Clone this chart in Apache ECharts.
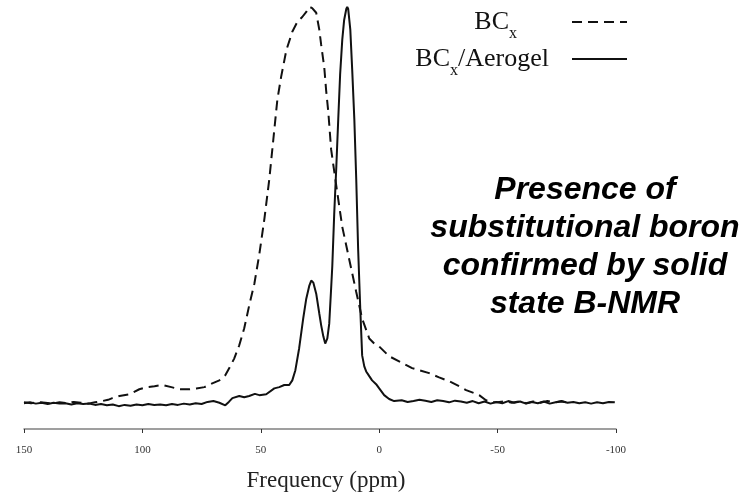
<!DOCTYPE html>
<html><head><meta charset="utf-8">
<script src="https://cdn.jsdelivr.net/npm/echarts@6/dist/echarts.min.js"></script>
<style>html,body{margin:0;padding:0;background:#fff}#c{width:753px;height:497px}</style>
</head><body><div id="c"></div>
<script>
// Axis tick labels (ppm)
const xTicks = [150, 100, 50, 0, -50, -100];
const seriesNames = ['BCx', 'BCx/Aerogel'];
const axisTitle = 'Frequency (ppm)';
const noteLines = ['Presence of', 'substitutional boron', 'confirmed by solid', 'state B-NMR'];

// BCx/Aerogel (solid) — chemical shift (ppm) and intensity (a.u.)
const solidPpm = [150,147.5,145,142.5,140,137.5,135,132.5,130,127.5,125,122.5,120,117.5,115,112.5,110,107.5,105,102.5,100,97.5,95,92.5,90,87.5,85,82.5,80,77.5,75,72.5,70,67.5,65,63.5,62,59.1,57,54.9,52.5,50.6,47.7,44.3,42.2,40.1,38,36.7,35.4,33.8,32.1,30.8,29.5,28.7,27.8,26.6,25.3,24.5,23.6,22.8,21.9,21.1,20.3,19.8,19,18.1,17.3,16.5,15.6,14.8,13.9,13.5,13.1,12.2,11.4,10.5,9.7,8.9,8,7.2,6.3,5.5,4.2,3,1.3,0,-2.1,-4.2,-6.3,-9.5,-12,-14.5,-17,-19.5,-22,-24.5,-27,-29.5,-32,-34.5,-37,-39.5,-42,-44.5,-47,-49.5,-52,-54.5,-57,-59.5,-62,-64.5,-67,-69.5,-72,-74.5,-77,-79.5,-82,-84.5,-87,-89.5,-92,-94.5,-97,-99.5];
const solidInt = [0.1,0.3,0.0,0.2,-0.1,0.2,0.0,0.1,-0.2,0.1,-0.1,0.0,-0.3,-0.1,-0.4,-0.2,-0.6,-0.3,-0.5,-0.2,-0.4,-0.1,-0.3,-0.2,-0.4,-0.1,-0.3,0.0,-0.2,0.1,-0.1,0.4,0.6,0.2,-0.4,0.4,1.3,1.8,1.5,1.8,2.3,2.0,2.2,3.6,3.9,4.4,4.4,5.5,7.9,13.1,20.1,24.8,27.9,29.1,28.6,26.0,21.3,18.5,15.9,14.2,15.4,18.9,27.2,32.6,44.8,56.1,67.2,77.8,86.0,90.7,93.3,93.8,93.3,88.4,78.9,67.2,53.1,36.6,22.5,11.4,8.8,7.6,6.5,5.5,4.6,3.6,2.0,1.1,0.6,0.8,0.4,0.6,0.9,0.7,0.4,0.8,0.6,0.3,0.7,0.5,0.2,0.6,0.1,0.5,0.0,0.4,0.1,0.6,0.2,0.5,0.0,0.4,0.1,0.5,0.0,0.3,0.6,0.2,0.4,0.1,0.3,0.0,0.3,0.1,0.4,0.3];

// BCx (dashed)
const dashPpm = [150,147,144,141,138,135,132,129,126,123,120,117,114.5,112.7,109.7,105.5,101.3,98.3,94.9,91.6,87.8,84.4,80.2,77.2,73.8,70.5,67.5,65,63.3,61.2,59.1,57,54.9,52.7,50.6,48.5,46.4,44.7,43,41.4,39.2,36.7,34.6,32.5,30.8,29.5,28.3,26.6,25.3,24.5,23.2,22.4,21.5,20.3,18.1,15.6,12.7,9.7,7.2,4.2,2.1,0,-4.2,-8.4,-13.9,-16.9,-21.1,-25.3,-29.5,-33.8,-36.7,-40.1,-42.2,-45.1,-47.3,-50,-53,-56,-59,-62,-65,-68,-71,-74,-77,-80];
const dashInt = [0.3,0.1,0.4,0.2,0.0,0.3,0.1,0.4,0.2,0.0,0.3,0.6,0.9,1.3,1.8,2.2,3.4,3.9,4.1,4.4,3.9,3.4,3.4,3.6,3.9,4.8,5.5,6.7,8.4,10.7,13.8,17.8,23.2,28.4,35.4,43.6,53.1,62.5,71.9,77.3,83.6,87.9,90.2,91.4,92.6,93.8,93.5,92.4,88.4,84.8,79.5,74.0,69.0,60.1,51.4,41.8,34.2,26.4,20.1,15.4,14.2,13.5,11.2,10.0,8.4,7.9,7.2,6.2,5.3,4.1,3.2,2.5,2.0,0.8,0.35,0.3,0.6,0.2,0.5,0.1,0.5,0.2,0.6,0.3,0.5,0.2];

const chart = echarts.init(document.getElementById('c'), null, {renderer: 'canvas'});
const serif = '"Liberation Serif", "Times New Roman", serif';
const rich = {
  n: {fontFamily: serif, fontSize: 26, lineHeight: 40, color: '#111'},
  s: {fontFamily: serif, fontSize: 16, lineHeight: 16, verticalAlign: 'bottom', color: '#111'},
  g1: {width: 50},
  g2: {width: 18}
};
function legendFmt(name) {
  return name === seriesNames[0] ? '{n|BC}{s|x}{g1| }' : '{n|BC}{s|x}{n|/Aerogel}{g2| }';
}
const legendBase = {right: 125, padding: 0, align: 'right', itemWidth: 55, itemHeight: 14,
  itemStyle: {opacity: 0}, formatter: legendFmt, textStyle: {rich: rich}};

chart.setOption({
  animation: false,
  grid: {left: 24, right: 137, top: 6, bottom: 66},
  xAxis: {
    type: 'value', inverse: true,
    min: Math.min(...xTicks), max: Math.max(...xTicks), interval: 50,
    axisLine: {onZero: false, lineStyle: {color: '#808080', width: 1.5}},
    axisTick: {length: 4, lineStyle: {color: '#333'}},
    splitLine: {show: false},
    axisLabel: {fontFamily: serif, fontSize: 11, color: '#333', margin: 16},
    name: axisTitle, nameLocation: 'middle', nameGap: 40,
    nameTextStyle: {fontFamily: serif, fontSize: 23, color: '#222', padding: [0, 0, 0, 12]}
  },
  yAxis: {type: 'value', min: -6, max: 94, show: false},
  legend: [
    Object.assign({}, legendBase, {data: [seriesNames[0]], top: 9}),
    Object.assign({}, legendBase, {data: [seriesNames[1]], top: 46})
  ],
  series: [
    {name: seriesNames[0], type: 'line', symbol: 'none', showSymbol: false,
     data: dashPpm.map((p, i) => [p, dashInt[i]]),
     lineStyle: {color: '#111', width: 2, type: [10, 6]}, itemStyle: {color: '#111'}, z: 2},
    {name: seriesNames[1], type: 'line', symbol: 'none', showSymbol: false,
     data: solidPpm.map((p, i) => [p, solidInt[i]]),
     lineStyle: {color: '#111', width: 2}, itemStyle: {color: '#111'}, z: 3}
  ],
  graphic: [{
    type: 'text', x: 585, y: 171,
    style: {text: noteLines.join('\n'), fontFamily: '"Liberation Sans", Arial, sans-serif', fontSize: 32,
      fontWeight: 'bold', fontStyle: 'italic', align: 'center', verticalAlign: 'top', lineHeight: 38, fill: '#000'}
  }]
});
</script>
</body></html>
